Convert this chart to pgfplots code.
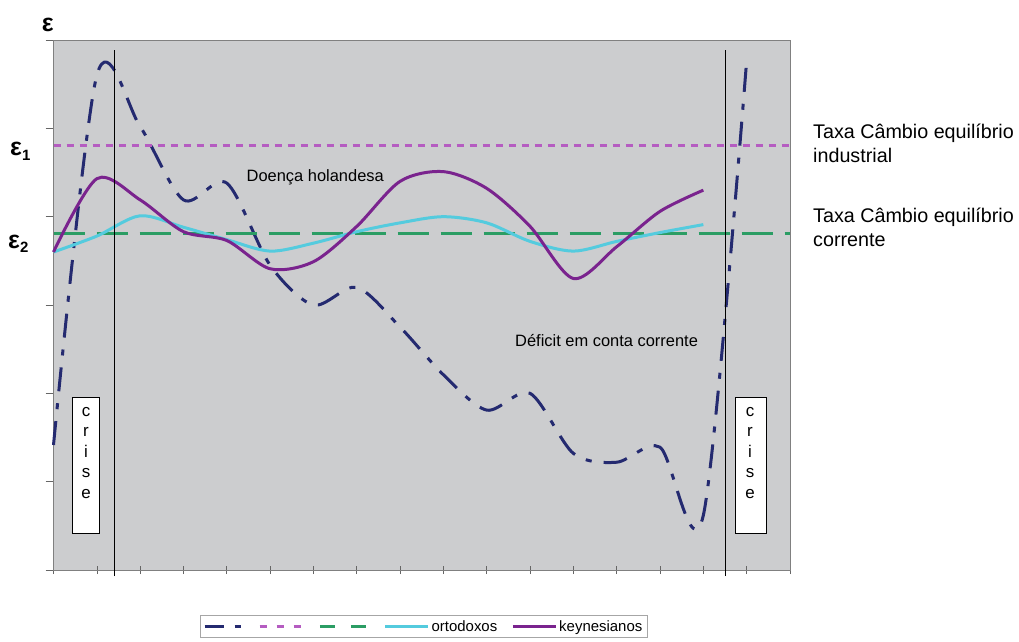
\documentclass[border=0pt]{standalone}
\usepackage{fontspec}
\setmainfont{Liberation Sans}
\usepackage{pgfplots}
\pgfplotsset{compat=1.18}

\definecolor{plotgray}{RGB}{204,205,207}
\definecolor{navyline}{RGB}{36,42,112}
\definecolor{magline}{RGB}{181,92,193}
\definecolor{greenline}{RGB}{43,157,100}
\definecolor{cyanline}{RGB}{84,203,222}
\definecolor{purpline}{RGB}{122,35,142}

\begin{document}
\begin{tikzpicture}
\begin{axis}[
    scale only axis, width=736.5bp, height=530bp,
    xmin=0, xmax=17, ymin=0, ymax=6,
    xtick={0,...,17}, ytick={0,...,6},
    xticklabels={}, yticklabels={},
    tick pos=left,
    xtick align=center, ytick align=outside,
    major tick length=8bp,
    tick style={draw=gray!80!black, line width=0.6bp},
    axis background/.style={fill=plotgray},
    axis line style={draw=gray, line width=0.8bp},
    clip=false,
    legend columns=-1,
    legend style={at={(0.1989,-0.0849)}, anchor=north west,
        draw=gray!70, fill=white, font=\fontsize{15}{17}\selectfont,
        inner sep=3bp,
        /tikz/every even column/.append style={column sep=12bp}},
]
% ortodoxos / deficit em conta corrente
\addplot[navyline, line width=3bp, smooth,
    dash pattern=on 24bp off 12bp on 6bp off 12bp,
    legend image code/.code={\draw[navyline, line width=3bp,
        dash pattern=on 19bp off 11bp on 6bp off 20bp] (0bp,0bp) -- (36bp,0bp);}]
    coordinates {
    (0,1.415) (1,5.6) (2,5.02) (3,4.19) (4,4.38) (5,3.45) (6,3.0)
    (7,3.2) (8,2.75) (9,2.21) (10,1.81) (11,2.0) (12,1.32) (13,1.22)
    (14,1.39) (15,0.62) (16,5.77)};
\addlegendentry{}
% cambio equilibrio industrial
\addplot[magline, line width=3bp, dash pattern=on 7bp off 6bp,
    legend image code/.code={\draw[magline, line width=3bp,
        dash pattern=on 7bp off 10bp] (0bp,0bp) -- (41bp,0bp);}]
    coordinates {(0,4.81) (17,4.81)};
\addlegendentry{}
% cambio equilibrio corrente
\addplot[greenline, line width=3.5bp, dash pattern=on 31bp off 12bp,
    legend image code/.code={\draw[greenline, line width=3.5bp,
        dash pattern=on 15bp off 16bp] (0bp,0bp) -- (46bp,0bp);}]
    coordinates {(0,3.81) (17,3.81)};
\addlegendentry{}
\addplot[cyanline, line width=3bp, smooth,
    legend image code/.code={\draw[cyanline, line width=3bp] (0bp,0bp) -- (43bp,0bp);}]
    coordinates {
    (0,3.6) (1,3.78) (2,4.01) (3,3.88) (4,3.74) (5,3.61) (6,3.70) (7,3.83)
    (8,3.93) (9,4.0) (10,3.93) (11,3.72) (12,3.61) (13,3.72) (14,3.82) (15,3.91)};
\addlegendentry{ortodoxos}
\addplot[purpline, line width=3bp, smooth,
    legend image code/.code={\draw[purpline, line width=3bp] (0bp,0bp) -- (43bp,0bp);}]
    coordinates {
    (0,3.6) (1,4.43) (2,4.19) (3,3.83) (4,3.73) (5,3.41) (6,3.49) (7,3.89)
    (8,4.40) (9,4.51) (10,4.32) (11,3.89) (12,3.30) (13,3.66) (14,4.06) (15,4.30)};
\addlegendentry{keynesianos}

% crise markers
\draw[black, line width=1.2bp] (axis cs:1.408,-0.068) -- (axis cs:1.408,5.887);
\draw[black, line width=1.2bp] (axis cs:15.52,-0.068) -- (axis cs:15.52,5.887);
\draw[black, fill=white, line width=0.8bp] (axis cs:0.443,0.41) rectangle (axis cs:1.058,1.95);
\draw[black, fill=white, line width=0.8bp] (axis cs:15.74,0.41) rectangle (axis cs:16.46,1.95);
\end{axis}

\begin{scope}[every node/.style={inner sep=0pt}]
\node[anchor=north] at (32.5bp,168bp) {\fontsize{17}{20.5}\selectfont\begin{tabular}{@{}c@{}}c\\r\\i\\s\\e\end{tabular}};
\node[anchor=north] at (696.5bp,168bp) {\fontsize{17}{20.5}\selectfont\begin{tabular}{@{}c@{}}c\\r\\i\\s\\e\end{tabular}};

\node[anchor=base west] at (193bp,388bp) {\fontsize{16.5}{20}\selectfont Doença holandesa};
\node[anchor=base west] at (461.5bp,223bp) {\fontsize{16.5}{20}\selectfont Déficit em conta corrente};

\node[anchor=base west] at (759.5bp,431bp) {\fontsize{19.8}{24}\selectfont Taxa Câmbio equilíbrio};
\node[anchor=base west] at (759.5bp,407bp) {\fontsize{19.8}{24}\selectfont industrial};
\node[anchor=base west] at (759.5bp,347bp) {\fontsize{19.8}{24}\selectfont Taxa Câmbio equilíbrio};
\node[anchor=base west] at (759.5bp,323bp) {\fontsize{19.8}{24}\selectfont corrente};

\node[anchor=base west] at (-11.8bp,538bp) {\fontsize{25}{25}\selectfont\bfseries ε};
\node[anchor=base west] at (-43.5bp,414bp) {\fontsize{25}{25}\selectfont\bfseries ε\raisebox{-5bp}{\fontsize{15}{15}\selectfont 1}};
\node[anchor=base west] at (-45.5bp,321bp) {\fontsize{25}{25}\selectfont\bfseries ε\raisebox{-4bp}{\fontsize{15}{15}\selectfont 2}};
\end{scope}

\path (-53.5bp,-72bp) rectangle (965.5bp,570bp);
\end{tikzpicture}
\end{document}
